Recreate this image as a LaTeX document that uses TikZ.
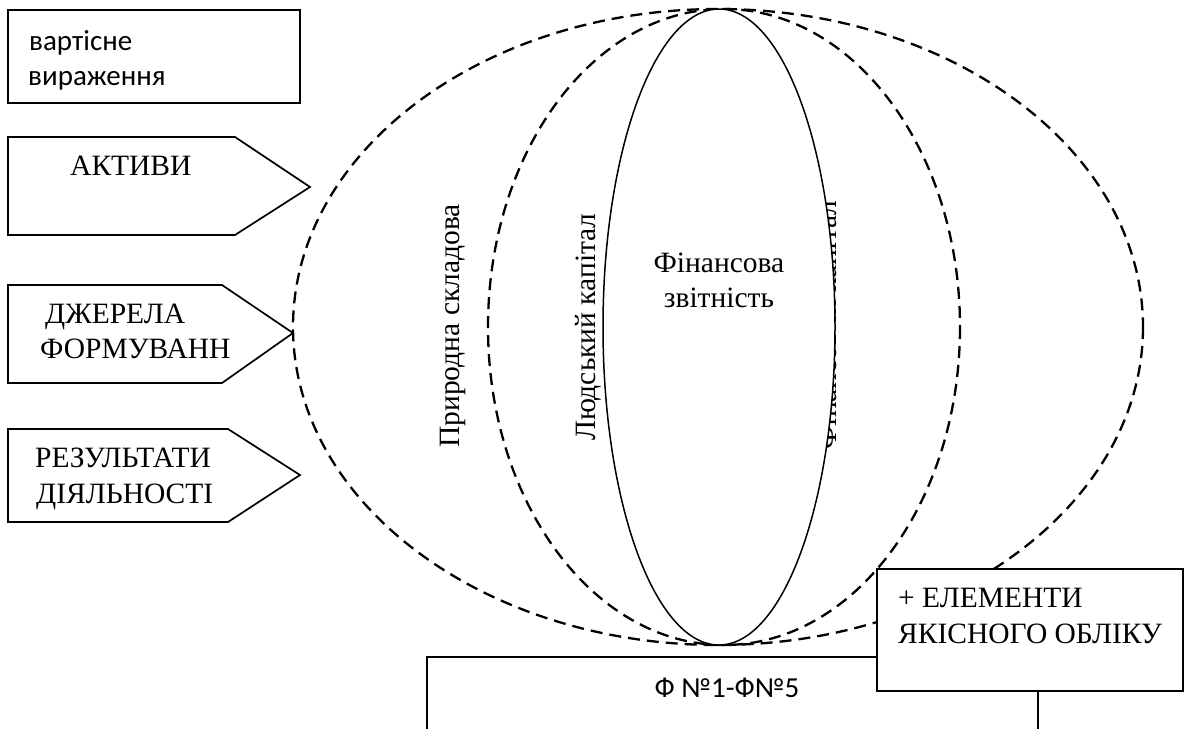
\documentclass[tikz,border=0pt]{standalone}
\usepackage{fontspec}
\setmainfont{Liberation Serif}
\newfontfamily\sansfam{Carlito}
\begin{document}
\begin{tikzpicture}[x=1pt,y=-1pt,
  dashell/.style={draw, line width=2.3pt, dash pattern=on 12pt off 7pt},
  solidell/.style={draw, line width=1.5pt, fill=white},
  boxline/.style={draw, line width=1.7pt},
  serif/.style={font=\fontsize{29.5}{35}\selectfont, inner sep=0pt},
  sans/.style={font=\sansfam\fontsize{29}{35}\selectfont, inner sep=0pt}]
\useasboundingbox (0,0) rectangle (1184,729);
% ellipses
\draw[dashell] (718,327) ellipse [x radius=425, y radius=318];
\draw[dashell] (724,327) ellipse [x radius=236, y radius=318];
\node[serif, rotate=90, anchor=base] (pryr) at (459,326) {Природна складова};
\node[serif, rotate=90, anchor=base] (lud) at (595,327) {Людський капітал};
\node[serif, rotate=90, anchor=base] (fincap) at (836,325) {Фінансовий капітал};
\draw[solidell] (719,327) ellipse [x radius=116, y radius=318];
\node[serif, anchor=base] (fs1) at (719,272) {Фінансова};
\node[serif, anchor=base] (fs2) at (719,307) {звітність};
% left boxes
\draw[boxline] (8,10) rectangle (300,103);
\node[sans, anchor=base west] (v1) at (29,50) {вартісне};
\node[sans, anchor=base west] (v2) at (28,85) {вираження};
\draw[boxline] (8,137) -- (235,137) -- (310,187) -- (235,235) -- (8,235) -- cycle;
\node[serif, anchor=base west] (akt) at (70,175) {АКТИВИ};
\draw[boxline] (8,285) -- (222,285) -- (293,333) -- (222,383) -- (8,383) -- cycle;
\node[serif, anchor=base west] (dz1) at (45,323) {ДЖЕРЕЛА};
\node[serif, anchor=base west] (dz2) at (40,358) {ФОРМУВАНН};
\draw[boxline] (8,429) -- (228,429) -- (300,475) -- (228,522) -- (8,522) -- cycle;
\node[serif, anchor=base west] (rz1) at (35,467) {РЕЗУЛЬТАТИ};
\node[serif, anchor=base west] (rz2) at (36,503) {ДІЯЛЬНОСТІ};
% bottom boxes
\draw[boxline] (427,729) -- (427,657) -- (1038,657) -- (1038,729);
\node[sans, anchor=base] (forms) at (727,697) {Ф №1-Ф№5};
\draw[boxline, fill=white] (877,569) rectangle (1183,691);
\node[serif, anchor=base west] (el1) at (898,607) {+ ЕЛЕМЕНТИ};
\node[serif, anchor=base west] (el2) at (898,643) {ЯКІСНОГО ОБЛІКУ};
\end{tikzpicture}
\end{document}
